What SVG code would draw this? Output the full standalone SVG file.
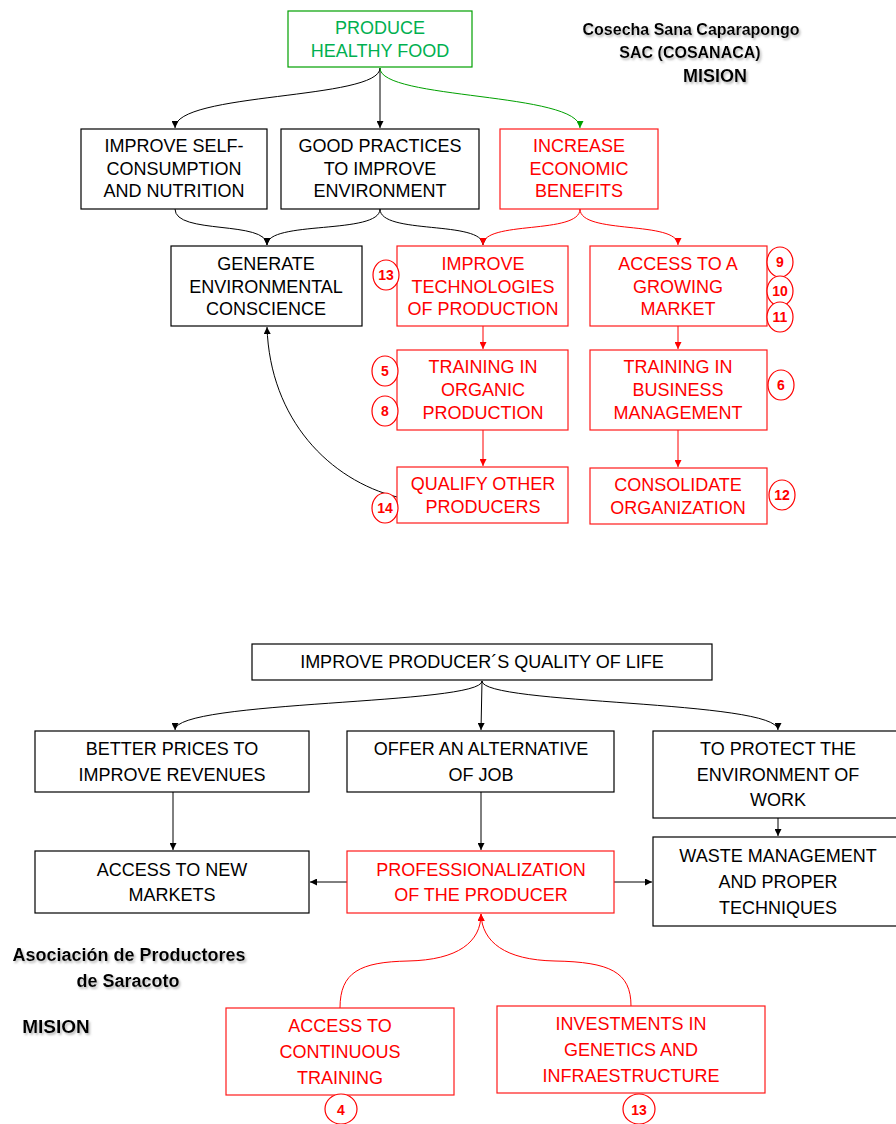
<svg xmlns="http://www.w3.org/2000/svg" width="896" height="1124" viewBox="0 0 896 1124">
<defs>
<marker id="ab" viewBox="0 0 10 10" refX="10" refY="5" markerWidth="7" markerHeight="7" orient="auto" markerUnits="userSpaceOnUse"><path d="M0,0 L10,5 L0,10 z" fill="#000"/></marker>
<marker id="ar" viewBox="0 0 10 10" refX="10" refY="5" markerWidth="7" markerHeight="7" orient="auto" markerUnits="userSpaceOnUse"><path d="M0,0 L10,5 L0,10 z" fill="#ff0000"/></marker>
<marker id="ag" viewBox="0 0 10 10" refX="10" refY="5" markerWidth="7" markerHeight="7" orient="auto" markerUnits="userSpaceOnUse"><path d="M0,0 L10,5 L0,10 z" fill="#00a000"/></marker>
<filter id="sh" x="-5%" y="-20%" width="110%" height="150%"><feDropShadow dx="1.5" dy="2" stdDeviation="1" flood-color="#888" flood-opacity="0.6"/></filter>
</defs>
<style>
.bk{fill:#fff;stroke:#000;stroke-width:1.2}
.rd{fill:#fff;stroke:#ff1a1a;stroke-width:1.2}
.gr{fill:#fff;stroke:#00a000;stroke-width:1.2}
text{font-family:"Liberation Sans",Arial,sans-serif;font-size:18px;text-anchor:middle}
.tb{fill:#000}
.tr{fill:#ff0000}
.tg{fill:#00b050}
.ttl{font-weight:bold;font-size:16px;fill:#000;filter:url(#sh)}
.c{fill:#fff;stroke:#ff0000;stroke-width:1.2}
.cn{font-weight:bold;font-size:14px;fill:#ff0000}
.lb{fill:none;stroke:#000;stroke-width:1}
.lr{fill:none;stroke:#ff0000;stroke-width:1}
.lg{fill:none;stroke:#00a000;stroke-width:1}
</style>

<g id="connectors">
<path class="lb" d="M380,68 C380,100 175,92 175,128" marker-end="url(#ab)"/>
<path class="lb" d="M380,68 L380,128" marker-end="url(#ab)"/>
<path class="lg" d="M380,68 C380,100 580,92 580,128" marker-end="url(#ag)"/>
<path class="lb" d="M175,209 C175,235 267,220 267,245" marker-end="url(#ab)"/>
<path class="lb" d="M380,209 C380,235 267,220 267,245" marker-end="url(#ab)"/>
<path class="lb" d="M380,209 C380,235 483,220 483,245" marker-end="url(#ab)"/>
<path class="lr" d="M580,209 C580,235 483,220 483,245" marker-end="url(#ar)"/>
<path class="lr" d="M580,209 C580,235 678,220 678,245" marker-end="url(#ar)"/>
<path class="lr" d="M483,326 L483,349" marker-end="url(#ar)"/>
<path class="lr" d="M678,326 L678,349" marker-end="url(#ar)"/>
<path class="lr" d="M483,430 L483,466" marker-end="url(#ar)"/>
<path class="lr" d="M678,430 L678,467" marker-end="url(#ar)"/>
<path class="lb" d="M397,497 C330,480 270,420 267,327" marker-end="url(#ab)"/>

<path class="lb" d="M482,681 C482,705 175,700 175,730" marker-end="url(#ab)"/>
<path class="lb" d="M482,681 L481,730" marker-end="url(#ab)"/>
<path class="lb" d="M482,681 C482,705 778,700 778,730" marker-end="url(#ab)"/>
<path class="lb" d="M173,792 L173,850" marker-end="url(#ab)"/>
<path class="lb" d="M481,792 L481,850" marker-end="url(#ab)"/>
<path class="lb" d="M778,818 L778,836" marker-end="url(#ab)"/>
<path class="lb" d="M347,882 L310,882" marker-end="url(#ab)"/>
<path class="lb" d="M614,882 L652,882" marker-end="url(#ab)"/>
<path class="lr" d="M340,1008 C340,972 360,962 408,961 C458,960 481,942 481,914" marker-end="url(#ar)"/>
<path class="lr" d="M631,1006 C631,972 610,962 555,961 C505,960 482,942 481,914" marker-end="url(#ar)"/>
</g>

<g id="title-top">
<text class="ttl" x="691" y="35">Cosecha Sana Caparapongo</text>
<text class="ttl" x="690" y="58">SAC (COSANACA)</text>
<text class="ttl" x="715" y="82" style="font-size:18px">MISION</text>
</g>

<g id="n-produce"><rect class="gr" x="288" y="11" width="184" height="56"/><text class="tg" x="380" y="34">PRODUCE</text><text class="tg" x="380" y="57">HEALTHY FOOD</text></g>
<g id="n-self"><rect class="bk" x="81" y="129" width="186" height="80"/><text class="tb" x="174" y="152">IMPROVE SELF-</text><text class="tb" x="174" y="175">CONSUMPTION</text><text class="tb" x="174" y="197">AND NUTRITION</text></g>
<g id="n-good"><rect class="bk" x="281" y="129" width="198" height="80"/><text class="tb" x="380" y="152">GOOD PRACTICES</text><text class="tb" x="380" y="175">TO IMPROVE</text><text class="tb" x="380" y="197">ENVIRONMENT</text></g>
<g id="n-increase"><rect class="rd" x="500" y="129" width="158" height="80"/><text class="tr" x="579" y="152">INCREASE</text><text class="tr" x="579" y="175">ECONOMIC</text><text class="tr" x="579" y="197">BENEFITS</text></g>
<g id="n-generate"><rect class="bk" x="171" y="246" width="191" height="80"/><text class="tb" x="266" y="270">GENERATE</text><text class="tb" x="266" y="293">ENVIRONMENTAL</text><text class="tb" x="266" y="315">CONSCIENCE</text></g>
<g id="n-tech"><rect class="rd" x="397" y="246" width="171" height="80"/><text class="tr" x="483" y="270">IMPROVE</text><text class="tr" x="483" y="293">TECHNOLOGIES</text><text class="tr" x="483" y="315">OF PRODUCTION</text></g>
<g id="n-market"><rect class="rd" x="590" y="246" width="177" height="80"/><text class="tr" x="678" y="270">ACCESS TO A</text><text class="tr" x="678" y="293">GROWING</text><text class="tr" x="678" y="315">MARKET</text></g>
<g id="n-organic"><rect class="rd" x="397" y="350" width="171" height="80"/><text class="tr" x="483" y="373">TRAINING IN</text><text class="tr" x="483" y="396">ORGANIC</text><text class="tr" x="483" y="419">PRODUCTION</text></g>
<g id="n-business"><rect class="rd" x="590" y="350" width="177" height="80"/><text class="tr" x="678" y="373">TRAINING IN</text><text class="tr" x="678" y="396">BUSINESS</text><text class="tr" x="678" y="419">MANAGEMENT</text></g>
<g id="n-qualify"><rect class="rd" x="397" y="467" width="171" height="56"/><text class="tr" x="483" y="490">QUALIFY OTHER</text><text class="tr" x="483" y="513">PRODUCERS</text></g>
<g id="n-consolidate"><rect class="rd" x="590" y="468" width="177" height="56"/><text class="tr" x="678" y="491">CONSOLIDATE</text><text class="tr" x="678" y="514">ORGANIZATION</text></g>

<g id="badges-top">
<ellipse class="c" cx="386" cy="275" rx="13" ry="15"/><text class="cn" x="386" y="280">13</text>
<ellipse class="c" cx="780" cy="262" rx="13" ry="15"/><text class="cn" x="780" y="267">9</text>
<ellipse class="c" cx="780" cy="291" rx="13" ry="15"/><text class="cn" x="780" y="296">10</text>
<ellipse class="c" cx="780" cy="317" rx="13" ry="15"/><text class="cn" x="780" y="322">11</text>
<ellipse class="c" cx="385" cy="371" rx="13" ry="15"/><text class="cn" x="385" y="376">5</text>
<ellipse class="c" cx="385" cy="411" rx="13" ry="15"/><text class="cn" x="385" y="416">8</text>
<ellipse class="c" cx="781" cy="385" rx="13" ry="15"/><text class="cn" x="781" y="390">6</text>
<ellipse class="c" cx="385" cy="508" rx="13" ry="15"/><text class="cn" x="385" y="513">14</text>
<ellipse class="c" cx="782" cy="495" rx="13" ry="15"/><text class="cn" x="782" y="500">12</text>
</g>

<g id="n-quality"><rect class="bk" x="252" y="644" width="460" height="36"/><text class="tb" x="482" y="668">IMPROVE PRODUCER´S QUALITY OF LIFE</text></g>
<g id="n-prices"><rect class="bk" x="35" y="731" width="274" height="61"/><text class="tb" x="172" y="755">BETTER PRICES TO</text><text class="tb" x="172" y="781">IMPROVE REVENUES</text></g>
<g id="n-job"><rect class="bk" x="347" y="731" width="267" height="61"/><text class="tb" x="481" y="755">OFFER AN ALTERNATIVE</text><text class="tb" x="481" y="781">OF JOB</text></g>
<g id="n-protect"><rect class="bk" x="653" y="731" width="250" height="87"/><text class="tb" x="778" y="755">TO PROTECT THE</text><text class="tb" x="778" y="781">ENVIRONMENT OF</text><text class="tb" x="778" y="806">WORK</text></g>
<g id="n-newmarkets"><rect class="bk" x="35" y="851" width="274" height="62"/><text class="tb" x="172" y="876">ACCESS TO NEW</text><text class="tb" x="172" y="901">MARKETS</text></g>
<g id="n-prof"><rect class="rd" x="347" y="851" width="267" height="62"/><text class="tr" x="481" y="876">PROFESSIONALIZATION</text><text class="tr" x="481" y="901">OF THE PRODUCER</text></g>
<g id="n-waste"><rect class="bk" x="653" y="837" width="250" height="89"/><text class="tb" x="778" y="862">WASTE MANAGEMENT</text><text class="tb" x="778" y="888">AND PROPER</text><text class="tb" x="778" y="914">TECHNIQUES</text></g>
<g id="n-continuous"><rect class="rd" x="226" y="1008" width="228" height="87"/><text class="tr" x="340" y="1032">ACCESS TO</text><text class="tr" x="340" y="1058">CONTINUOUS</text><text class="tr" x="340" y="1084">TRAINING</text></g>
<g id="n-invest"><rect class="rd" x="497" y="1006" width="268" height="87"/><text class="tr" x="631" y="1030">INVESTMENTS IN</text><text class="tr" x="631" y="1056">GENETICS AND</text><text class="tr" x="631" y="1082">INFRAESTRUCTURE</text></g>

<g id="badges-bottom">
<ellipse class="c" cx="341" cy="1109" rx="16" ry="15"/><text class="cn" x="341" y="1115">4</text>
<ellipse class="c" cx="639" cy="1109" rx="16" ry="15"/><text class="cn" x="639" y="1115">13</text>
</g>

<g id="title-bottom">
<text class="ttl" x="129" y="961" style="font-size:18px">Asociación de Productores</text>
<text class="ttl" x="128" y="987" style="font-size:18px">de Saracoto</text>
<text class="ttl" x="56" y="1033" style="font-size:19px">MISION</text>
</g>
</svg>
